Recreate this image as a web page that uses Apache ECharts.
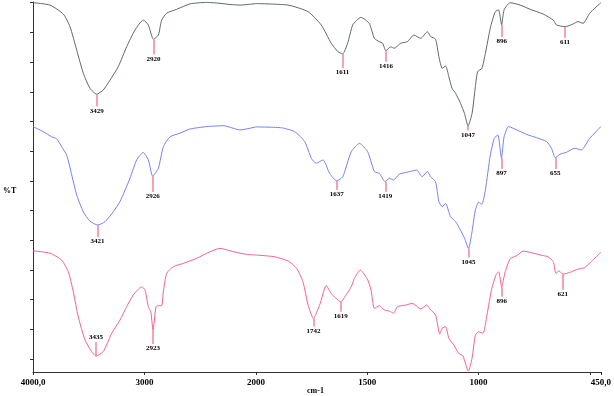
<!DOCTYPE html>
<html>
<head>
<meta charset="utf-8">
<script src="https://cdn.jsdelivr.net/npm/echarts@6.0.0/dist/echarts.min.js"></script>
<style>html,body{margin:0;padding:0;background:#fff}#c{width:614px;height:396px}</style>
</head>
<body>
<div id="c"></div>
<script>
// ---- data (wavenumber cm-1, %T with offset) ----
const topW = [4000,3848,3728,3668,3608,3549,3489,3429,3370,3309,3235,3160,3085,3011,2966,2920,2876,2846,2801,2711,2592,2442,2323,2233,2143,2000,1856,1766,1707,1662,1632,1611,1588,1565,1528,1491,1468,1446,1431,1416,1394,1379,1349,1320,1290,1260,1230,1215,1193,1178,1163,1148,1133,1119,1103,1081,1063,1047,1029,1014,1004,985,969,947,925,910,896,885,858,813,768,709,664,650,611,575,553,530,500,450];
const topT = [123.1,122.3,119.3,115.1,107.3,99.6,94.6,92.6,94,97.3,101.8,108.4,114,117.3,115.7,110.9,112.3,117.3,119.6,120.9,122.7,123.2,122.9,122.5,122.3,122.8,122.3,120.1,115.7,109.6,106.8,106,109.6,115.7,118.2,116.2,111.2,110.1,109.6,107.1,108.4,107.9,109.6,110.1,112.3,111.2,113.4,111.8,110.9,105.1,101.2,102,98.4,94.6,92.9,89.6,86.2,82,86.2,95.1,100.1,101.2,106.2,114.6,120.1,120.7,115.7,120.7,123.1,122.3,120.9,119.3,117.3,115.7,115.1,116,116.8,116.2,119.6,123.1];

const midW = [4000,3908,3832,3787,3743,3698,3653,3608,3549,3489,3421,3354,3280,3220,3130,3070,3011,2966,2926,2876,2831,2771,2682,2592,2442,2293,2143,2000,1885,1826,1781,1751,1729,1699,1669,1637,1610,1572,1535,1498,1468,1446,1419,1401,1382,1357,1320,1278,1253,1230,1215,1193,1178,1163,1148,1126,1103,1081,1063,1045,1029,1014,999,985,969,947,929,913,897,885,865,828,784,739,694,672,655,634,605,567,538,500,450];
const midT = [81.8,80.1,78.4,77.7,75.1,72.3,65.7,59,53.4,50.3,49,50.1,53.4,56.8,64.6,70.7,73.2,70.7,65.3,67.9,75.1,78.4,79.6,81,81.8,82.1,80.7,81.7,81.4,80.1,76.8,71.2,69.6,70.7,66.2,63.7,65.1,73.4,76.2,73.4,66.8,66.2,63.4,64.6,64,65.9,66.6,67.3,65.1,66.8,65.1,63.4,56.8,55.1,56.2,51.8,50.1,47.3,44.6,41.2,46.8,54,56.6,55.9,60.7,72.3,77.9,79,71.4,78.4,81.8,80.7,79.2,78.1,76.8,74.6,71.4,72.6,73.2,74.6,74,77.9,81.8];

const botW = [4000,3848,3743,3683,3639,3594,3534,3474,3435,3370,3294,3220,3160,3100,3025,2995,2966,2944,2923,2897,2876,2846,2831,2801,2742,2652,2532,2412,2323,2203,2083,2000,1915,1856,1818,1789,1766,1742,1714,1684,1662,1619,1595,1572,1558,1531,1498,1483,1468,1446,1424,1401,1382,1364,1327,1297,1260,1233,1215,1193,1174,1163,1148,1133,1111,1089,1070,1046,1029,1014,999,980,962,940,920,909,896,880,858,828,798,754,709,687,664,652,638,621,590,553,523,493,450];
const botT = [40.4,39.6,37.3,33.4,26.8,18.4,10.7,6.8,5.3,6.8,12.9,17.3,21.8,25.7,28.4,27.3,21.8,20.1,14,21.8,22.1,22.1,26.8,32.9,35.1,36.2,37.9,40.1,41.2,40.1,39.2,39,38.4,37,34.6,30.1,22.3,17.9,22.3,28.8,26.2,23.4,25.7,28.4,31.2,34,30.7,27.3,21.2,22.1,20.7,20.3,19.6,21.8,22.3,22.9,21,22.3,20.7,19,12.6,14.6,15.1,11.2,9,6.2,5.4,0.3,4.6,12.3,13.4,12.9,19,27.9,32.6,33.4,28.4,33.4,37.7,38.8,40.3,39.6,38.8,38.4,36.8,32.9,33.7,32.6,33.2,34.3,34.8,36.8,39.9];

// labelled peaks
const topPeaks = [3429, 2920, 1611, 1416, 1047, 896, 611];
const midPeaks = [3421, 2926, 1637, 1419, 1045, 897, 655];
const botPeaks = [3435, 2923, 1742, 1619, 896, 621];

// axis ticks / labels
const xTicksHigh = [4000, 3000, 2000];
const xLabelsHigh = [4000, 3000, 2000];
const xTicksLow = [1500, 1000, 500, 450];
const xLabelsLow = [1500, 1000, 450];
const xLabelText = {4000: '4000,0', 450: '450,0'};
const yTicks = [4.3, 14.2, 24.1, 34.0, 43.9, 53.8, 63.7, 73.6, 83.5, 93.4, 103.3, 113.2, 123.1];

// ---- styles ----
const colors = {top: '#5b6a6a', mid: '#7483f2', bot: '#f4628f'};
const markColor = '#f0839b';
// marker stem lengths (in y units; negative = upward)
const stemLen = {
  top: {3429: 4, 2920: 5, 1611: 4.7, 1416: 3.7, 1047: 1.5, 896: 4, 611: 3.7},
  mid: {3421: 4, 2926: 5.3, 1637: 3, 1419: 3.3, 1045: 3, 897: 3.7, 655: 3.7},
  bot: {3435: -4.7, 2923: 4.7, 1742: 2.7, 1619: 3.3, 896: 3.3, 621: 5.2}
};
const SPLIT = 2000;
const serif = '"Liberation Serif", "DejaVu Serif", serif';

function pairs(W, T) { return W.map((w, i) => [w, T[i]]); }
function valueAt(W, T, w) {
  let best = 0;
  W.forEach((x, i) => { if (Math.abs(x - w) < Math.abs(W[best] - w)) best = i; });
  return T[best];
}
function makeSeries(key, W, T, peaks, high) {
  const data = pairs(W, T).filter(p => high ? p[0] >= SPLIT : p[0] <= SPLIT);
  const pk = peaks.filter(w => high ? w > SPLIT : w <= SPLIT);
  return {
    type: 'line',
    xAxisIndex: high ? 0 : 1,
    yAxisIndex: high ? 0 : 1,
    data: data,
    showSymbol: false,
    smooth: 0.2,
    lineStyle: {color: colors[key], width: 1},
    itemStyle: {color: colors[key]},
    animation: false,
    silent: true,
    markLine: {
      symbol: 'none',
      silent: true,
      animation: false,
      lineStyle: {color: markColor, width: 1.5, type: 'solid'},
      label: {
        show: true, position: 'end', distance: 1, formatter: '{b}',
        fontSize: 7, fontWeight: 'bold', fontFamily: serif, color: '#000'
      },
      emphasis: {disabled: true},
      data: pk.map(w => {
        const v = valueAt(W, T, w);
        return [{name: String(w), coord: [w, v]}, {coord: [w, v - stemLen[key][w]]}];
      })
    }
  };
}

const axisLineStyle = {color: '#333', width: 1};
const xLabelStyle = {
  fontSize: 9, fontWeight: 'bold', fontFamily: serif, color: '#000', margin: 6,
  formatter: v => xLabelText[v] || String(v)
};

const option = {
  animation: false,
  backgroundColor: '#fff',
  grid: [
    {left: 33, top: 2, width: 223, height: 370},
    {left: 256, top: 2, width: 347, height: 370}
  ],
  xAxis: [
    {
      gridIndex: 0, type: 'value', min: 2000, max: 4000, inverse: true,
      axisLine: {show: true, lineStyle: axisLineStyle},
      axisTick: {show: true, length: 3, inside: false, customValues: xTicksHigh, lineStyle: axisLineStyle},
      axisLabel: Object.assign({customValues: xLabelsHigh}, xLabelStyle),
      splitLine: {show: false}
    },
    {
      gridIndex: 1, type: 'value', min: 450, max: 2000, inverse: true,
      axisLine: {show: true, lineStyle: axisLineStyle},
      axisTick: {show: true, length: 3, inside: false, customValues: xTicksLow, lineStyle: axisLineStyle},
      axisLabel: Object.assign({customValues: xLabelsLow}, xLabelStyle),
      splitLine: {show: false}
    }
  ],
  yAxis: [
    {
      gridIndex: 0, type: 'value', min: 0, max: 123.33,
      axisLine: {show: true, lineStyle: axisLineStyle},
      axisTick: {show: true, length: 3, inside: false, customValues: yTicks, lineStyle: axisLineStyle},
      axisLabel: {show: false},
      splitLine: {show: false}
    },
    {
      gridIndex: 1, type: 'value', min: 0, max: 123.33, show: false,
      splitLine: {show: false}
    }
  ],
  graphic: [
    {type: 'text', left: 3, top: 187, style: {text: '%T', font: 'bold 8px ' + serif, fill: '#000'}},
    {type: 'text', left: 307, top: 387, style: {text: 'cm-1', font: 'bold 8px ' + serif, fill: '#000'}}
  ],
  series: [
    makeSeries('top', topW, topT, topPeaks, true),
    makeSeries('top', topW, topT, topPeaks, false),
    makeSeries('mid', midW, midT, midPeaks, true),
    makeSeries('mid', midW, midT, midPeaks, false),
    makeSeries('bot', botW, botT, botPeaks, true),
    makeSeries('bot', botW, botT, botPeaks, false)
  ]
};

const chart = echarts.init(document.getElementById('c'), null, {renderer: 'canvas'});
chart.setOption(option);
</script>
</body>
</html>
